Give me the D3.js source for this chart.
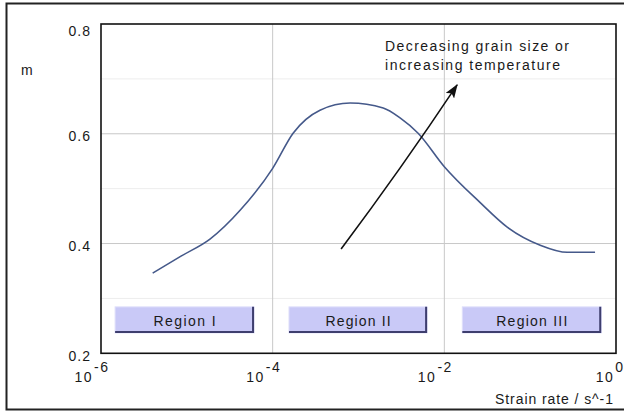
<!DOCTYPE html>
<html>
<head>
<meta charset="utf-8">
<script src="https://cdn.jsdelivr.net/npm/d3@7"></script>
<style>
  html, body { margin: 0; padding: 0; background: #fff; }
  svg { display: block; font-family: "Liberation Sans", Arial, sans-serif; }
</style>
</head>
<body>
<svg id="chart" width="624" height="412"></svg>
<script>
// ---- data ----
const strainRate = [4.0e-6, 8.55e-6, 1.86e-5, 4.2e-5, 1.0e-4, 1.73e-4, 3.56e-4, 8.0e-4, 1.94e-3, 3.05e-3, 4.95e-3, 1.0e-2, 2.6e-2, 5.4e-2, 0.131, 0.27, 0.57];
const mValues    = [0.346, 0.377, 0.408, 0.461, 0.537, 0.601, 0.643, 0.656, 0.647, 0.629, 0.601, 0.540, 0.475, 0.430, 0.397, 0.384, 0.384];

const yTicks = [0.2, 0.4, 0.6, 0.8];
const yMinorGrid = [0.3, 0.5, 0.7];
const xTicks = [1e-6, 1e-4, 1e-2, 1];
const xTickExponents = ["-6", "-4", "-2", "0"];
const xGrid = [1e-4, 1e-2];

const regionNames = ["Region I", "Region II", "Region III"];
const regionStart = [1.46e-6, 1.55e-4, 1.62e-2];
const regionEnd   = [6.07e-5, 6.3e-3, 0.673];
const regionTop = 0.2846, regionBottom = 0.2372;
const regionLabelWidths = [62, 65, 71];

const arrowFrom = { rate: 6.27e-4, m: 0.390 };
const arrowTo   = { rate: 1.41e-2, m: 0.689 };
const annotationLines = ["Decreasing grain size or", "increasing temperature"];

const yLabel = "m";
const xLabel = "Strain rate / s^-1";

// ---- layout ----
const svg = d3.select("#chart");
const L = 101, R = 616, T = 24, B = 353.3;
const x = d3.scaleLog().domain([1e-6, 1]).range([L, R]);
const y = d3.scaleLinear().domain([0.2, 0.8]).range([B, T]);
const FS = 14;

// outer frame
svg.append("rect").attr("x", 6.5).attr("y", 3.5).attr("width", 640).attr("height", 406)
  .attr("fill", "#fff").attr("stroke", "#222").attr("stroke-width", 2);

// minor grid
svg.append("g").selectAll("line").data(yMinorGrid).join("line")
  .attr("x1", L).attr("x2", R).attr("y1", d => y(d)).attr("y2", d => y(d))
  .attr("stroke", "#ededed").attr("stroke-width", 1);
// major grid
svg.append("g").selectAll("line").data([0.4, 0.6]).join("line")
  .attr("x1", L).attr("x2", R).attr("y1", d => y(d)).attr("y2", d => y(d))
  .attr("stroke", "#c8c8c8").attr("stroke-width", 1);
svg.append("g").selectAll("line").data(xGrid).join("line")
  .attr("x1", d => x(d)).attr("x2", d => x(d)).attr("y1", T).attr("y2", B)
  .attr("stroke", "#c8c8c8").attr("stroke-width", 1);

// region boxes
const rg = svg.append("g").selectAll("g").data(regionNames).join("g");
rg.append("rect")
  .attr("x", (d, i) => x(regionStart[i])).attr("y", y(regionTop))
  .attr("width", (d, i) => x(regionEnd[i]) - x(regionStart[i]))
  .attr("height", y(regionBottom) - y(regionTop))
  .attr("fill", "#c9c9f7").attr("stroke", "#dedefa").attr("stroke-width", 1);
rg.append("path")
  .attr("d", (d, i) => {
    const x0 = x(regionStart[i]), x1 = x(regionEnd[i]), y0 = y(regionTop), y1 = y(regionBottom);
    return `M${x1 - 1},${y0} L${x1 - 1},${y1 - 1} L${x0},${y1 - 1}`;
  })
  .attr("fill", "none").attr("stroke", "#3e3e6e").attr("stroke-width", 2);
rg.append("text")
  .attr("x", (d, i) => (x(regionStart[i]) + x(regionEnd[i])) / 2)
  .attr("y", y(regionBottom) - 7)
  .attr("text-anchor", "middle")
  .attr("font-size", FS).attr("fill", "#1a1a1a")
  .attr("textLength", (d, i) => regionLabelWidths[i])
  .text(d => d);

// main curve
const pts = strainRate.map((r, i) => [r, mValues[i]]);
svg.append("path").datum(pts)
  .attr("d", d3.line().x(d => x(d[0])).y(d => y(d[1])).curve(d3.curveMonotoneX))
  .attr("fill", "none").attr("stroke", "#45598a").attr("stroke-width", 1.6);

// arrow
const defs = svg.append("defs");
defs.append("marker").attr("id", "ah").attr("viewBox", "0 0 14 10")
  .attr("refX", 13).attr("refY", 5).attr("markerWidth", 14).attr("markerHeight", 10)
  .attr("markerUnits", "userSpaceOnUse").attr("orient", "auto")
  .append("path").attr("d", "M0,0 L14,5 L0,10 L3,5 Z").attr("fill", "#111");
const ax0 = x(arrowFrom.rate), ay0 = y(arrowFrom.m), ax1 = x(arrowTo.rate), ay1 = y(arrowTo.m);
svg.append("path")
  .attr("d", `M${ax0},${ay0} Q${(ax0 + ax1) / 2 + 2},${(ay0 + ay1) / 2 + 2} ${ax1},${ay1}`)
  .attr("fill", "none").attr("stroke", "#111").attr("stroke-width", 1.6)
  .attr("marker-end", "url(#ah)");

// annotation
svg.append("g").selectAll("text").data(annotationLines).join("text")
  .attr("x", 385).attr("y", (d, i) => 51 + i * 19)
  .attr("font-size", FS).attr("fill", "#1a1a1a")
  .attr("textLength", (d, i) => [184, 175][i])
  .text(d => d);

// plot frame
svg.append("rect").attr("x", L).attr("y", T).attr("width", R - L).attr("height", B - T)
  .attr("fill", "none").attr("stroke", "#111").attr("stroke-width", 1.6);

// y axis
const yAxis = svg.append("g").attr("transform", `translate(${L},0)`)
  .call(d3.axisLeft(y).tickValues(yTicks).tickSize(0).tickPadding(10).tickFormat(d3.format(".1f")));
yAxis.select(".domain").remove();
yAxis.selectAll("text")
  .attr("font-family", "Liberation Sans, Arial, sans-serif")
  .attr("font-size", FS).attr("fill", "#1a1a1a")
  .attr("letter-spacing", "1px")
  .attr("dy", d => d === 0.8 ? "0.8em" : "0.5em");

// x axis
const xAxis = svg.append("g").attr("transform", `translate(0,${B})`)
  .call(d3.axisBottom(x).tickValues(xTicks).tickSize(0).tickFormat(() => ""));
xAxis.select(".domain").remove();
xAxis.selectAll("text")
  .attr("font-family", "Liberation Sans, Arial, sans-serif")
  .attr("font-size", FS).attr("fill", "#1a1a1a")
  .attr("text-anchor", "end").attr("x", 8).attr("y", 29).attr("dy", 0)
  .attr("letter-spacing", "1.5px")
  .each(function(d, i) {
    const t = d3.select(this);
    t.append("tspan").text("10");
    t.append("tspan").attr("dy", -10).attr("dx", 1).text(xTickExponents[i]);
  });

// axis titles
svg.append("text").attr("x", 21).attr("y", 75).attr("font-size", FS).attr("fill", "#1a1a1a")
  .attr("textLength", 12).text(yLabel);
svg.append("text").attr("x", 613).attr("y", 404).attr("font-size", FS).attr("fill", "#1a1a1a")
  .attr("text-anchor", "end").attr("textLength", 118).text(xLabel);
</script>
</body>
</html>
